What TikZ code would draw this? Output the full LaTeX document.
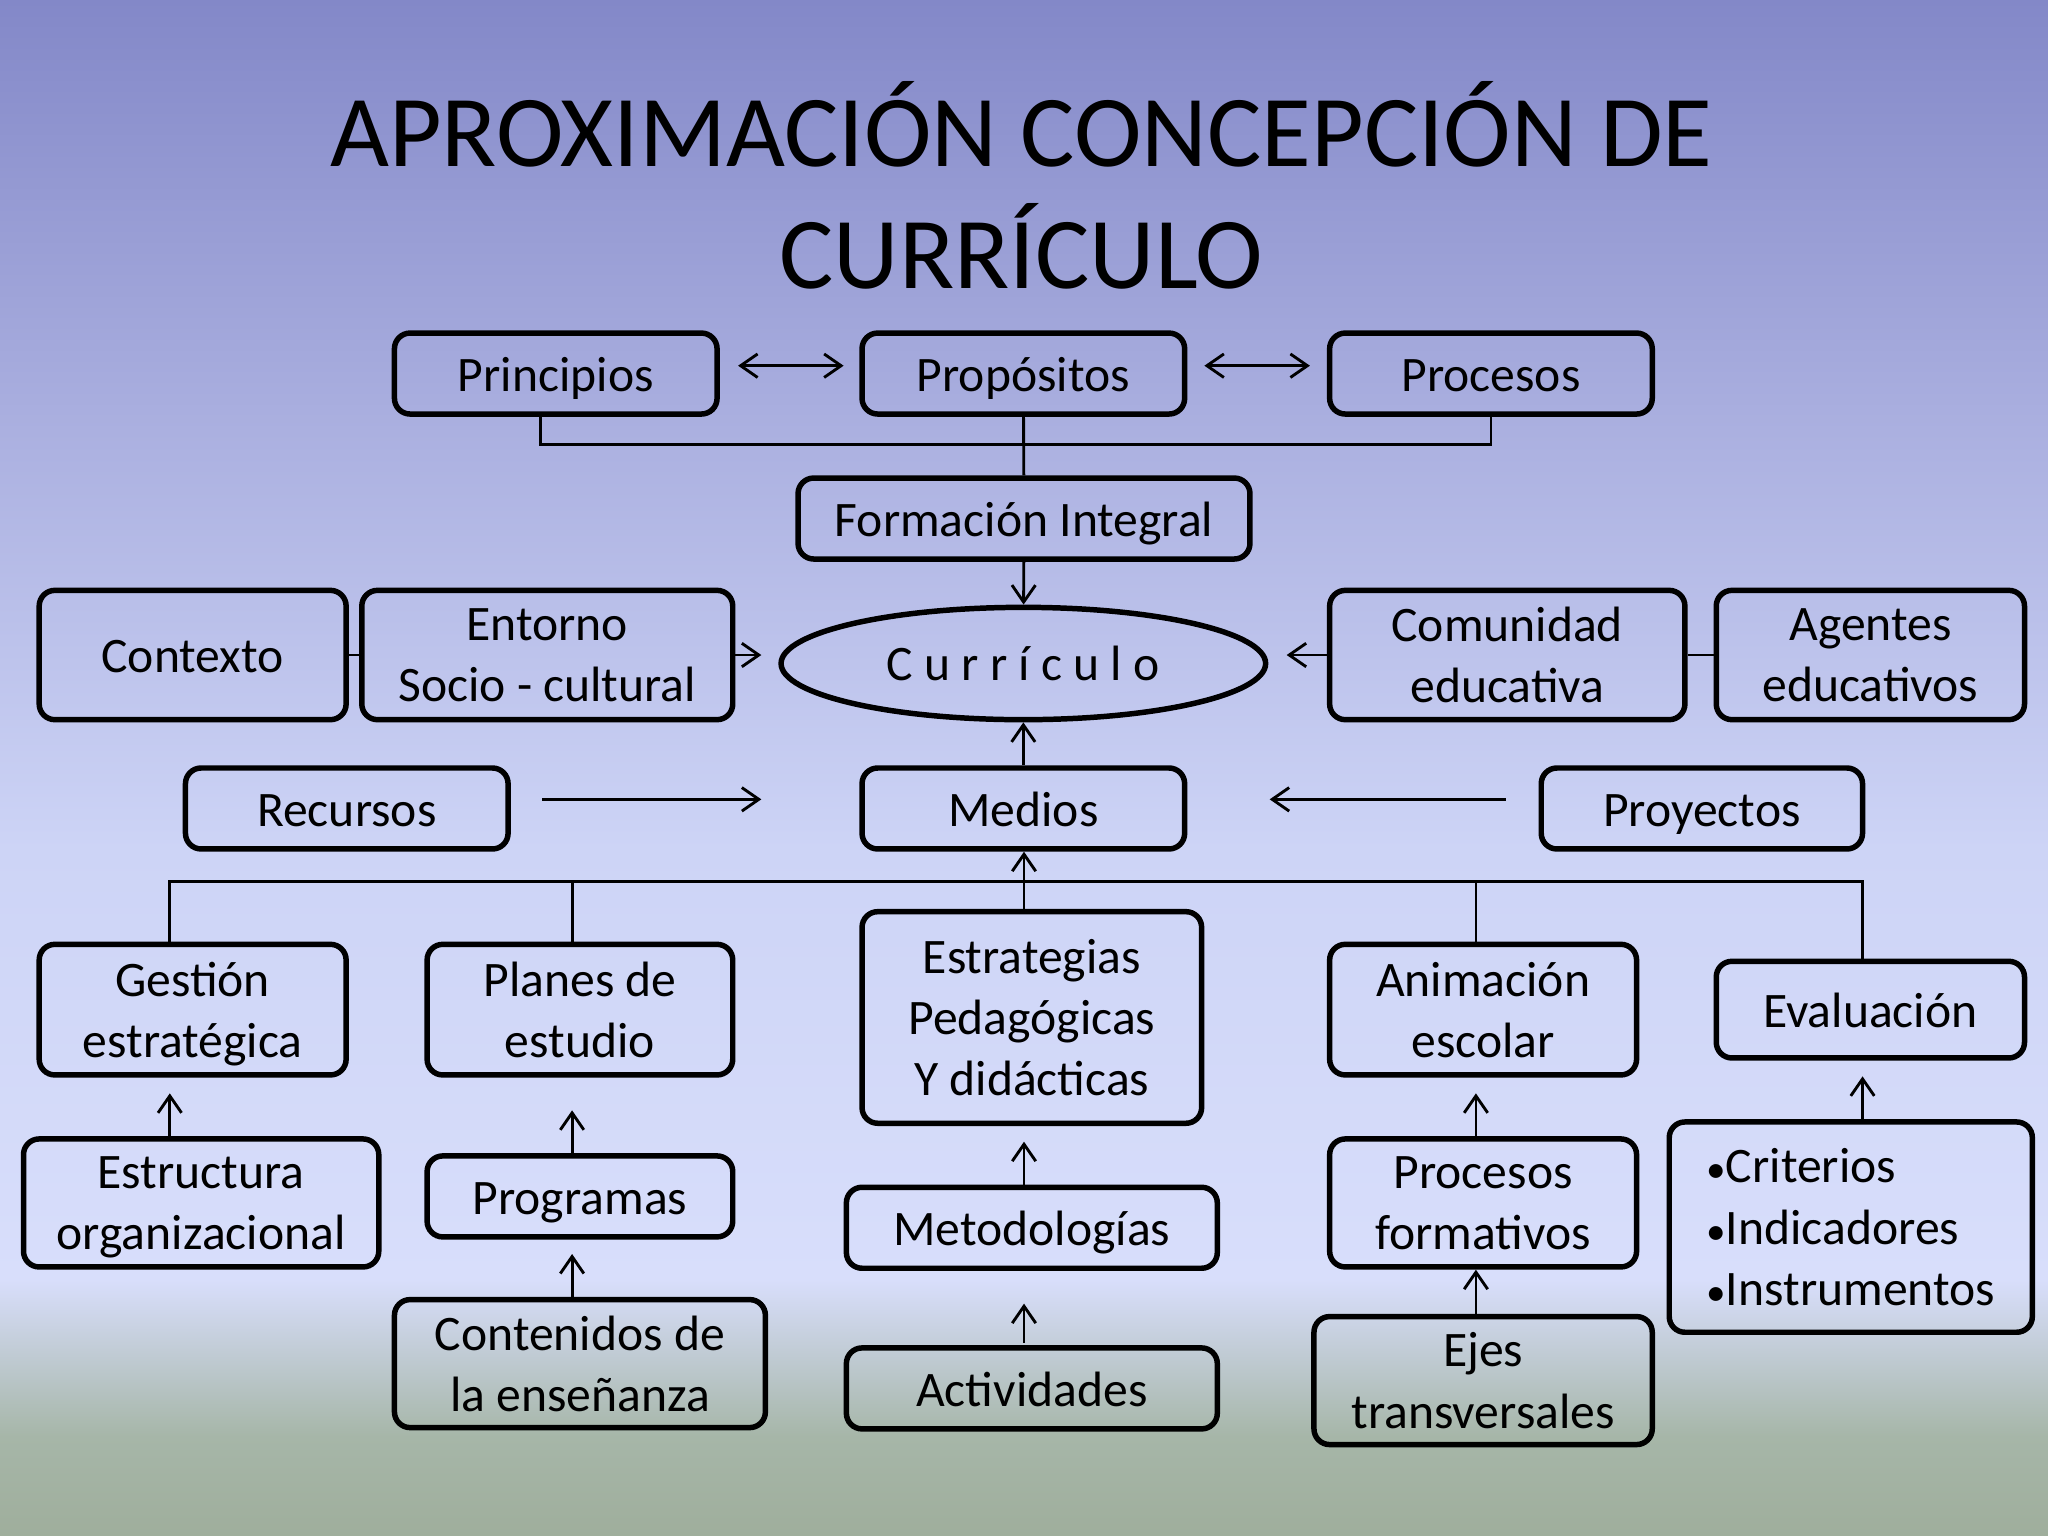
\documentclass[tikz,border=0pt]{standalone}
\usepackage{fontspec}
\setmainfont{Carlito}
\usetikzlibrary{arrows.meta,shapes.geometric}

\definecolor{bgtop}{HTML}{8388C8}
\definecolor{bgupper}{HTML}{ABB0E0}
\definecolor{bgmid}{HTML}{CDD4F6}
\definecolor{bglight}{HTML}{D8DEFB}
\definecolor{bggreen}{HTML}{A6B6A8}
\definecolor{bgbottom}{HTML}{9FAE9C}

\newcommand{\boxstrut}{\rule[-6pt]{0pt}{25.5pt}}
\newcommand{\bul}{{\fontsize{15}{15}\selectfont•}}

\tikzset{
  cbox/.style={draw, line width=2.1pt, rounded corners=6pt, align=center,
    inner sep=0pt, font=\fontsize{19}{23.5}\selectfont,
    execute at begin node=\boxstrut, execute at end node=\boxstrut},
  mbox/.style={cbox, text depth=0pt},
  link/.style={line width=1.1pt},
  arr/.style={line width=1.1pt, -{Straight Barb[length=6.5pt,width=9pt]}},
  darr/.style={line width=1.1pt, {Straight Barb[length=6.5pt,width=9pt]}-{Straight Barb[length=6.5pt,width=9pt]}}
}

\begin{document}
\begin{tikzpicture}[x=0.5pt, y=-0.5pt]
  \useasboundingbox (0,0) rectangle (1568,1176);
  % background
  \shade[top color=bgtop, bottom color=bgupper] (0,0) rectangle (1568,330);
  \shade[top color=bgupper, bottom color=bgmid] (0,330) rectangle (1568,650);
  \shade[top color=bgmid, bottom color=bglight] (0,650) rectangle (1568,980);
  \shade[top color=bglight, bottom color=bggreen] (0,980) rectangle (1568,1100);
  \shade[top color=bggreen, bottom color=bgbottom] (0,1100) rectangle (1568,1176);

  % title
  \node[align=center, font=\fontsize{39}{46.5}\selectfont] (title) at (782,142)
    {APROXIMACIÓN CONCEPCIÓN DE\\CURRÍCULO};

  % top row
  \node[cbox, minimum width=123.5pt, minimum height=31pt] (principios) at (425.5,286) {Principios};
  \node[cbox, minimum width=123.5pt, minimum height=31pt] (propositos) at (783.5,286) {Propósitos};
  \node[cbox, minimum width=123.5pt, minimum height=31pt] (procesos) at (1141.5,286) {Procesos};
  \node[cbox, minimum width=173pt, minimum height=31pt] (formacion) at (784,397) {Formación Integral};

  \node[draw, ellipse, line width=2.1pt, inner sep=0pt, minimum width=185.5pt, minimum height=43pt,
    font=\fontsize{19}{23.5}\selectfont] (curriculo) at (783.5,508) {C u r r í c u l o};

  \node[cbox, minimum width=117.5pt, minimum height=49.5pt] (contexto) at (147.5,501.5) {Contexto};
  \node[mbox, minimum width=142pt, minimum height=49.5pt] (entorno) at (419,501.5) {Entorno\\Socio - cultural};
  \node[mbox, minimum width=136pt, minimum height=49.5pt] (comunidad) at (1154,501.5) {Comunidad\\educativa};
  \node[mbox, minimum width=118pt, minimum height=49.5pt] (agentes) at (1432,501.5) {Agentes\\educativos};

  \node[cbox, minimum width=123.5pt, minimum height=31pt] (recursos) at (265.5,619) {Recursos};
  \node[cbox, minimum width=123.5pt, minimum height=31pt] (medios) at (783.5,619) {Medios};
  \node[cbox, minimum width=123pt, minimum height=31pt] (proyectos) at (1303,619) {Proyectos};

  % lower rows
  \node[mbox, minimum width=117.5pt, minimum height=50pt] (gestion) at (147.5,773) {Gestión\\estratégica};
  \node[mbox, minimum width=117pt, minimum height=50pt] (planes) at (444,773) {Planes de\\estudio};
  \node[mbox, minimum width=130pt, minimum height=81pt] (estrategias) at (790,779) {Estrategias\\Pedagógicas\\Y didácticas};
  \node[mbox, minimum width=117.5pt, minimum height=50pt] (animacion) at (1135.5,773) {Animación\\escolar};
  \node[cbox, minimum width=118pt, minimum height=37pt] (evaluacion) at (1432,773) {Evaluación};

  \node[mbox, minimum width=136pt, minimum height=49pt] (estructura) at (154,921) {Estructura\\organizacional};
  \node[cbox, minimum width=117pt, minimum height=31pt] (programas) at (444,916) {Programas};
  \node[mbox, minimum width=142pt, minimum height=49pt] (contenidos) at (444,1044) {Contenidos de\\la enseñanza};
  \node[cbox, minimum width=142pt, minimum height=31pt] (metodologias) at (790,940) {Metodologías};
  \node[cbox, minimum width=142pt, minimum height=31pt] (actividades) at (790,1063) {Actividades};
  \node[mbox, minimum width=117.5pt, minimum height=49pt] (procform) at (1135.5,921) {Procesos\\formativos};
  \node[mbox, minimum width=129.5pt, minimum height=49pt] (ejes) at (1135.5,1057) {Ejes\\transversales};
  \node[mbox, align=left, minimum width=139pt, minimum height=80.5pt] (criterios) at (1417,939.5)
    {\bul Criterios\\\bul Indicadores\\\bul Instrumentos};

  % column lines
  \coordinate (c1) at (130,0);
  \coordinate (c2) at (438,0);
  \coordinate (c3) at (784,0);
  \coordinate (c4) at (1130,0);
  \coordinate (c5) at (1426,0);
  \coordinate (topbar) at (784,340);
  \coordinate (bar) at (784,675);

  % top connectors
  \draw[darr, shorten <=7pt, shorten >=6pt] ([yshift=3pt]principios.east) -- ([yshift=3pt]propositos.west);
  \draw[darr, shorten <=6.5pt, shorten >=6.5pt] ([yshift=3pt]propositos.east) -- ([yshift=3pt]procesos.west);
  \draw[link] ([xshift=-5.75pt]principios.south) |- (topbar) -| (procesos.south);
  \draw[link] (propositos) -- (formacion);
  \draw[arr] (formacion) -- (curriculo);

  % middle connectors
  \draw[link] (contexto.east) -- (entorno.west);
  \draw[arr, shorten >=6.5pt] (entorno.east) -- (entorno.east -| curriculo.west);
  \draw[link] (comunidad.east) -- (agentes.west);
  \draw[arr, shorten >=7pt] (comunidad.west) -- (comunidad.west -| curriculo.east);
  \draw[arr] (medios) -- (curriculo);
  \draw[arr, shorten <=12pt, shorten >=37.5pt] ([yshift=3.5pt]recursos.east) -- ([yshift=3.5pt]medios.west);
  \draw[arr, shorten <=12.5pt, shorten >=31.5pt] ([yshift=3.5pt]proyectos.west) -- ([yshift=3.5pt]medios.east);

  % lower tree
  \draw[link] (c1 |- gestion.north) |- (bar) -| (c5 |- evaluacion.north);
  \draw[link] (c2 |- planes.north) -- (c2 |- bar);
  \draw[link] (c4 |- animacion.north) -- (c4 |- bar);
  \draw[arr] (c3 |- estrategias.north) -- (c3 |- medios.south);

  \draw[arr, shorten >=6pt] (c1 |- estructura.north) -- (c1 |- gestion.south);
  \draw[arr, shorten >=12.5pt] (c2 |- programas.north) -- (c2 |- planes.south);
  \draw[arr, shorten >=5.5pt] (c2 |- contenidos.north) -- (c2 |- programas.south);
  \draw[arr, shorten >=6pt] (c3 |- metodologias.north) -- (c3 |- estrategias.south);
  \draw[arr, shorten <=1pt, shorten >=12.5pt] (c3 |- actividades.north) -- (c3 |- metodologias.south);
  \draw[arr, shorten >=6pt] (c4 |- procform.north) -- (c4 |- animacion.south);
  \draw[arr] (c4 |- ejes.north) -- (c4 |- procform.south);
  \draw[arr, shorten >=6pt] (c5 |- criterios.north) -- (c5 |- evaluacion.south);
\end{tikzpicture}
\end{document}
